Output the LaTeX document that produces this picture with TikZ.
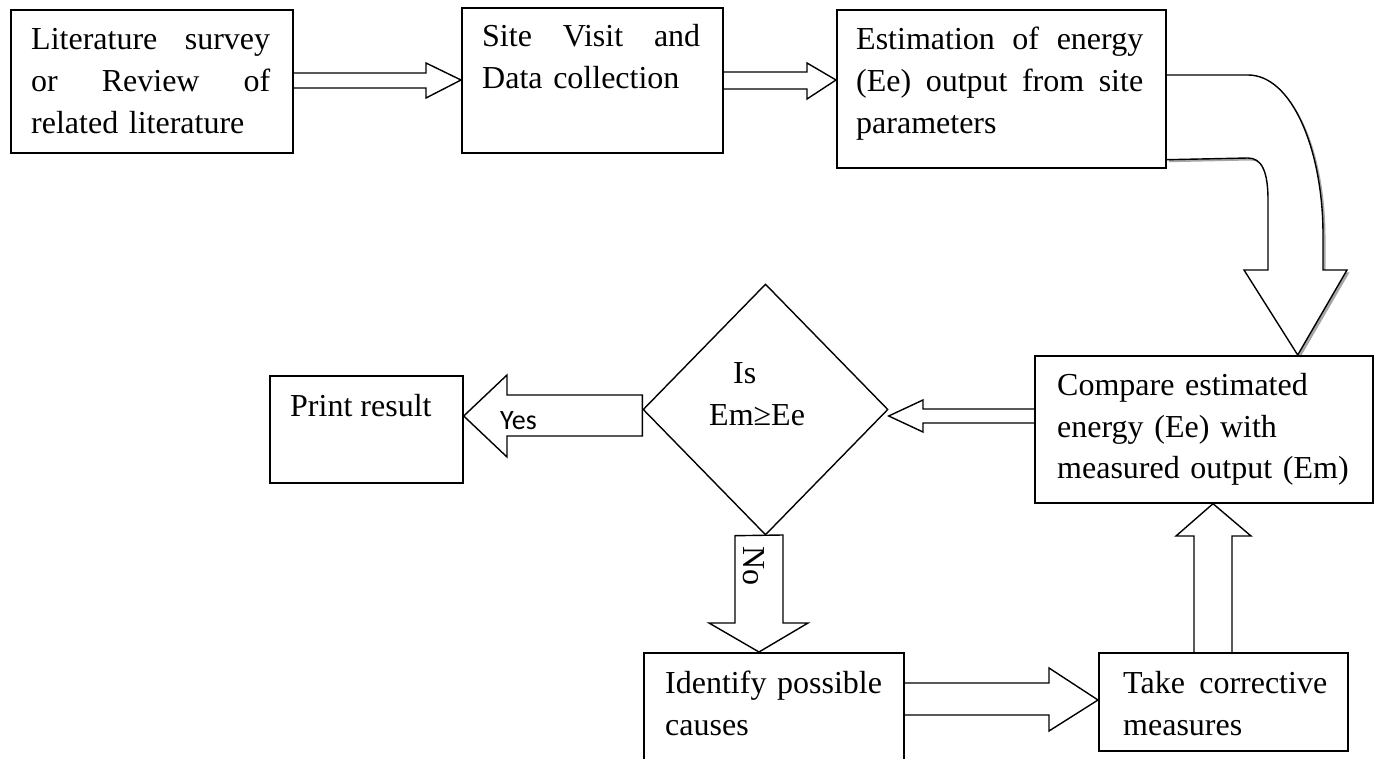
\documentclass[tikz,border=0pt]{standalone}
\usepackage{fontspec}
\setmainfont{Liberation Serif}
\newfontfamily\labelfont{Carlito}
\usetikzlibrary{shapes.geometric,calc}
\pgfdeclarelayer{back}
\pgfsetlayers{back,main}

\begin{document}
\begin{tikzpicture}[
    x=1pt, y=-1pt,
    BX/.style 2 args={draw=black,line width=1.7pt,inner sep=0pt,anchor=north west,minimum width=#1pt,minimum height=#2pt},
    TX/.style={inner sep=0pt,anchor=base west,align=left,font=\fontsize{32}{42}\selectfont,
      execute at begin node=\setlength{\parindent}{0pt}},
    FA/.style={draw=black,line width=1.4pt,line join=miter}
    ]
    \useasboundingbox (0,0) rectangle (1379,759);
    \clip (0,0) rectangle (1379,759);
    % boxes
    \node [BX={282}{143}] (lit) at (10,9) {};
    \node [BX={261}{145}] (site) at (461,7) {};
    \node [BX={329}{158}] (est) at (836,9) {};
    \node [BX={338}{147}] (cmp) at (1034,355) {};
    \node [BX={193}{107}] (prt) at (269,375) {};
    \node [BX={260}{140}] (idf) at (643,652) {};
    \node [BX={249}{98}] (tcm) at (1098,652) {};
    \node [draw=black,diamond,line width=1.4pt,inner sep=0pt,minimum width=245pt,minimum height=251pt] (dec) at (765.5,409.5) {};
    % texts
    \node [TX,text width=239pt] (litT) at (31,50) {Literature\hfill survey\\or\hfill Review\hfill of\\related literature};
    \node [TX,text width=218pt] (siteT) at (482,47) {Site\hfill Visit\hfill and\\Data collection};
    \node [TX,text width=287pt] (estT) at (856,50) {Estimation\hfill of\hfill energy\\(Ee)\hfill output\hfill from\hfill site\\parameters};
    \node [TX,text width=310pt] (cmpT) at (1057,395) {Compare estimated\\energy (Ee) with\\measured output (Em)};
    \node [TX] (prtT) at (290,416) {Print result};
    \node [TX,text width=120pt] (decT) at (709,383) {\hspace*{24pt}Is\\Em≥Ee};
    \node [TX,text width=230pt] (idfT) at (665,693) {Identify possible\\causes};
    \node [TX,text width=204pt] (tcmT) at (1123,693) {Take\hfill corrective\\measures};
    \node [inner sep=0pt,anchor=base west,font=\labelfont\fontsize{28}{30}\selectfont] (yesL) at (500,429) {Yes};
    \node [inner sep=0pt,rotate=-90,font=\fontsize{32}{36}\selectfont] (noL) at (754,566) {No};
    % block arrows
    \draw [FA] (lit.east |- 0,73) -- (426,73) -- (426,63) -- (site.west |- 0,80) -- (426,98) -- (426,88) -- (lit.east |- 0,88);
    \draw [FA] (site.east |- 0,72) -- (807,72) -- (807,63) -- (est.west |- 0,80) -- (807,99) -- (807,89) -- (site.east |- 0,89);
    \draw [FA] (cmp.west |- 0,409) -- (923,409) -- (923,400) -- (dec.east |- 0,416) -- (923,432) -- (923,423) -- (cmp.west |- 0,423);
    \draw [FA] (dec.west |- 0,395) -- (507,395) -- (507,375) -- (prt.east |- 0,416) -- (507,457) -- (507,436) -- (dec.west |- 0,436) -- cycle;
    \draw [FA] (dec.south -| 735,0) -- (783,535) -- (783,623) -- (808,623) -- (idf.north -| 759,0) -- (709,623) -- (735,623) -- cycle;
    \draw [FA] (idf.east |- 0,683) -- (1049,683) -- (1049,668) -- (tcm.west |- 0,700) -- (1049,731) -- (1049,715) -- (idf.east |- 0,715);
    \draw [FA] (tcm.north -| 1194,0) -- (1194,536) -- (1176,536) -- (cmp.south -| 1213,0) -- (1251,536) -- (1232,536) -- (tcm.north -| 1232,0);
    % bent arrow with shadow
    \coordinate (bendA) at ($(est.north east)+(0,66)$);
    \coordinate (bendB) at ($(est.south east)+(0,-9)$);
    \coordinate (bendT) at ($(cmp.north east)+(-76,0)$);
    \def\bendpath{(bendA) -- (1248,75) .. controls (1292,75) and (1323,150) .. (1323,235) -- (1323,270) -- (1347,270) -- (bendT) -- (1244,270) -- (1268,270) -- (1268,200) .. controls (1268,172) and (1262,158) .. (1248,158) -- (bendB)}
    \begin{pgfonlayer}{back}
      \fill [gray!70,transform canvas={shift={(2.5pt,-2.5pt)}}] \bendpath;
      \fill [white] \bendpath;
    \end{pgfonlayer}
    \draw [FA] \bendpath;
\end{tikzpicture}
\end{document}
